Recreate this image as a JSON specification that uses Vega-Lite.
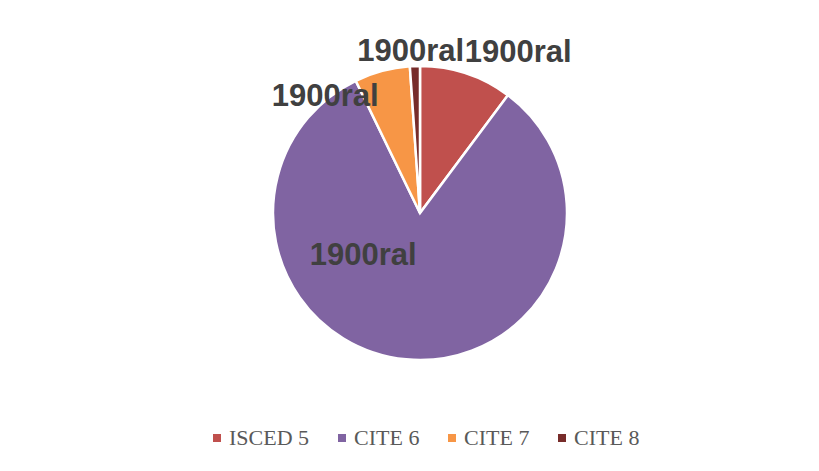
{
  "$schema": "https://vega.github.io/schema/vega-lite/v6.json",
  "width": 822,
  "height": 406,
  "padding": {"left": 9, "top": 10, "right": 0, "bottom": 0},
  "background": "white",
  "config": {"view": {"stroke": null}},
  "data": {
    "values": [
      {"cat": "ISCED 5", "value": 10.2, "k": 1, "label": "1900ral"},
      {"cat": "CITE 6", "value": 82.6, "k": 2, "label": "1900ral"},
      {"cat": "CITE 7", "value": 6.1, "k": 3, "label": "1900ral"},
      {"cat": "CITE 8", "value": 1.1, "k": 4, "label": "1900ral"}
    ]
  },
  "encoding": {
    "theta": {"field": "value", "type": "quantitative", "stack": true},
    "order": {"field": "k", "type": "quantitative"}
  },
  "layer": [
    {
      "mark": {"type": "arc", "radius": 147, "stroke": "white", "strokeWidth": 2.5},
      "encoding": {
        "color": {
          "field": "cat",
          "type": "nominal",
          "sort": ["ISCED 5", "CITE 6", "CITE 7", "CITE 8"],
          "scale": {
            "domain": ["ISCED 5", "CITE 6", "CITE 7", "CITE 8"],
            "range": ["#C0504D", "#8064A2", "#F79646", "#772C2A"]
          },
          "legend": {
            "orient": "none",
            "legendX": 197,
            "legendY": 417,
            "direction": "horizontal",
            "columns": 4,
            "title": null,
            "symbolType": "square",
            "symbolSize": 64,
            "symbolStrokeWidth": 0,
            "labelFont": "Liberation Serif",
            "labelFontSize": 22,
            "labelColor": "#595959",
            "labelOffset": 1,
            "columnPadding": 21
          }
        }
      }
    },
    {
      "mark": {"type": "text", "radius": 152, "align": "center", "baseline": "alphabetic", "dx": -4, "font": "Liberation Sans", "fontWeight": "bold", "fontSize": 31, "fill": "#404040"},
      "encoding": {"text": {"condition": {"test": "datum.cat === 'CITE 8'", "field": "label"}, "value": ""}}
    },
    {
      "mark": {"type": "text", "radius": 158, "align": "left", "baseline": "alphabetic", "dx": -5, "dy": -1, "font": "Liberation Sans", "fontWeight": "bold", "fontSize": 31, "fill": "#404040"},
      "encoding": {"text": {"condition": {"test": "datum.cat === 'ISCED 5'", "field": "label"}, "value": ""}}
    },
    {
      "mark": {"type": "text", "radius": 110, "align": "right", "baseline": "alphabetic", "dx": -13, "dy": -1, "font": "Liberation Sans", "fontWeight": "bold", "fontSize": 31, "fill": "#404040"},
      "encoding": {"text": {"condition": {"test": "datum.cat === 'CITE 7'", "field": "label"}, "value": ""}}
    },
    {
      "mark": {"type": "text", "radius": 52, "align": "center", "baseline": "alphabetic", "dx": -52, "font": "Liberation Sans", "fontWeight": "bold", "fontSize": 31, "fill": "#404040"},
      "encoding": {"text": {"condition": {"test": "datum.cat === 'CITE 6'", "field": "label"}, "value": ""}}
    }
  ]
}
